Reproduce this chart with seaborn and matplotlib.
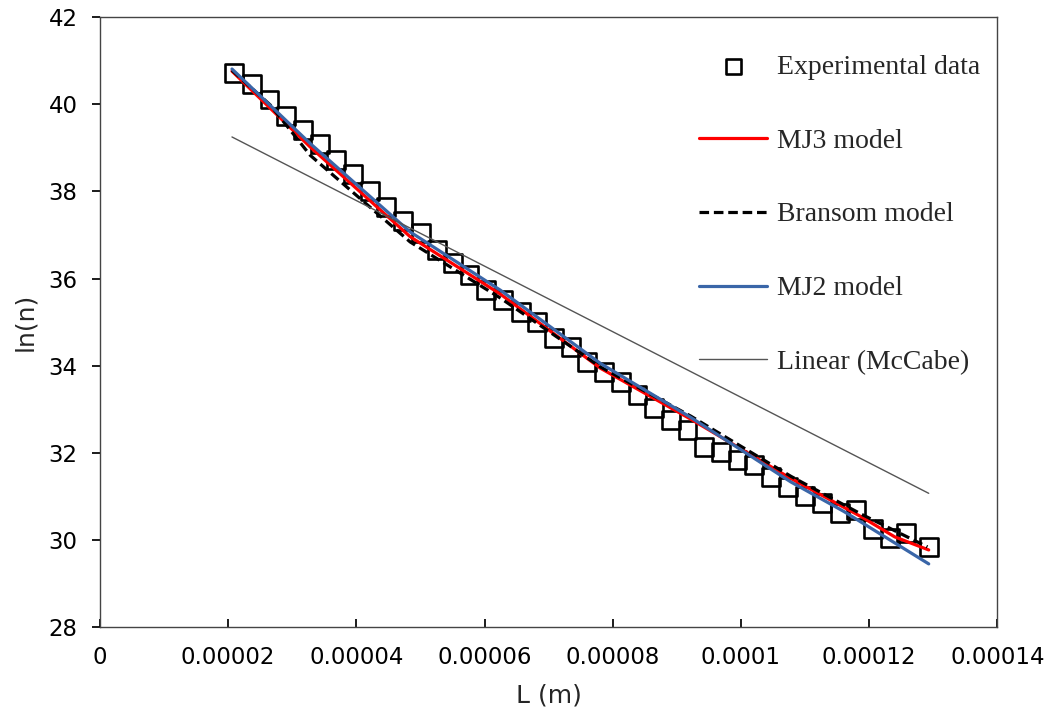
import matplotlib.pyplot as plt
import matplotlib.ticker as mticker
import seaborn as sns
import numpy as np

# Experimental data (L in 1e-6 m, ln(n))
exp_L = [20.9, 23.7, 26.45, 29.06, 31.67, 34.27, 36.88, 39.48, 42.08, 44.69,
         47.34, 50.11, 52.61, 55.05, 57.66, 60.27, 62.86, 65.63, 68.23, 70.83,
         73.44, 76.05, 78.64, 81.25, 83.86, 86.45, 89.06, 91.67, 94.27, 96.88,
         99.48, 102.08, 104.69, 107.3, 110.0, 112.6, 115.4, 117.97, 120.6, 123.2,
         125.8, 129.3]
exp_ln = [40.72, 40.46, 40.11, 39.73, 39.41, 39.08, 38.73, 38.40, 38.01, 37.65,
          37.32, 37.04, 36.65, 36.35, 36.08, 35.73, 35.50, 35.24, 35.01, 34.63,
          34.43, 34.09, 33.86, 33.63, 33.32, 33.02, 32.75, 32.52, 32.14, 32.02,
          31.83, 31.72, 31.45, 31.22, 31.01, 30.84, 30.61, 30.69, 30.26, 30.04,
          30.15, 29.83]

# Model curves
mj3_L = [20.6, 32.8, 48.4, 62.5, 78.1, 92.2, 107.8, 118.8, 124.0, 129.3]
mj3_ln = [40.76, 39.02, 36.96, 35.64, 33.94, 32.77, 31.41, 30.53, 30.07, 29.77]

bran_L = [20.6, 26.6, 32.8, 48.4, 62.5, 78.1, 92.2, 107.8, 118.8, 129.1]
bran_ln = [40.78, 39.98, 38.83, 36.84, 35.55, 33.97, 32.84, 31.46, 30.59, 29.84]

mj2_L = [20.6, 32.8, 48.4, 62.5, 78.1, 92.2, 107.8, 116.1, 129.3]
mj2_ln = [40.81, 39.10, 37.07, 35.73, 34.05, 32.81, 31.33, 30.65, 29.45]

lin_L = [20.6, 129.3]
lin_ln = [39.25, 31.07]

scale = 1e-6

sns.set_theme(style="ticks")
plt.rcParams['font.family'] = ['DejaVu Sans']

fig, ax = plt.subplots(figsize=(10.52, 7.15), dpi=100)
fig.subplots_adjust(left=0.095, right=0.948, bottom=0.123, top=0.976)

sns.scatterplot(x=np.array(exp_L) * scale, y=exp_ln, ax=ax, marker='s', s=165,
                facecolor='none', edgecolor='black', linewidth=1.9,
                label='Experimental data', zorder=2)
sns.lineplot(x=np.array(mj3_L) * scale, y=mj3_ln, ax=ax, color='#FF0000',
             linewidth=2.3, label='MJ3 model', sort=False, zorder=3)
sns.lineplot(x=np.array(bran_L) * scale, y=bran_ln, ax=ax, color='black',
             linewidth=2.3, linestyle=(0, (3, 1.5)), label='Bransom model',
             sort=False, zorder=3)
sns.lineplot(x=np.array(mj2_L) * scale, y=mj2_ln, ax=ax, color='#3A66A8',
             linewidth=2.3, label='MJ2 model', sort=False, zorder=3)
sns.lineplot(x=np.array(lin_L) * scale, y=lin_ln, ax=ax, color='#555555',
             linewidth=1.0, label='Linear (McCabe)', sort=False, zorder=3)

ax.set_xlim(0, 0.00014)
ax.set_ylim(28, 42)
ax.set_xticks(np.arange(0, 0.000141, 0.00002))
ax.set_yticks(np.arange(28, 43, 2))


def fmt(v, pos):
    s = f"{v:.5f}".rstrip('0').rstrip('.')
    return s


ax.xaxis.set_major_formatter(mticker.FuncFormatter(fmt))
ax.tick_params(axis='x', direction='in', length=6, pad=14, labelsize=16.5,
               colors='black')
ax.tick_params(axis='y', direction='out', length=6, pad=10, labelsize=16.5,
               colors='black')

for sp in ax.spines.values():
    sp.set_visible(True)
    sp.set_color('#444444')
    sp.set_linewidth(1.0)

ax.set_xlabel('L (m)', fontsize=18, labelpad=10)
ax.set_ylabel('ln(n)', fontsize=18, labelpad=8)

leg = ax.legend(loc='upper right', bbox_to_anchor=(0.993, 0.957), frameon=False,
                labelspacing=1.74, handlelength=2.45, handletextpad=0.33,
                borderaxespad=0, markerscale=0.85,
                prop={'family': 'Liberation Serif', 'size': 20})

fig.savefig('out.png', dpi=100)
